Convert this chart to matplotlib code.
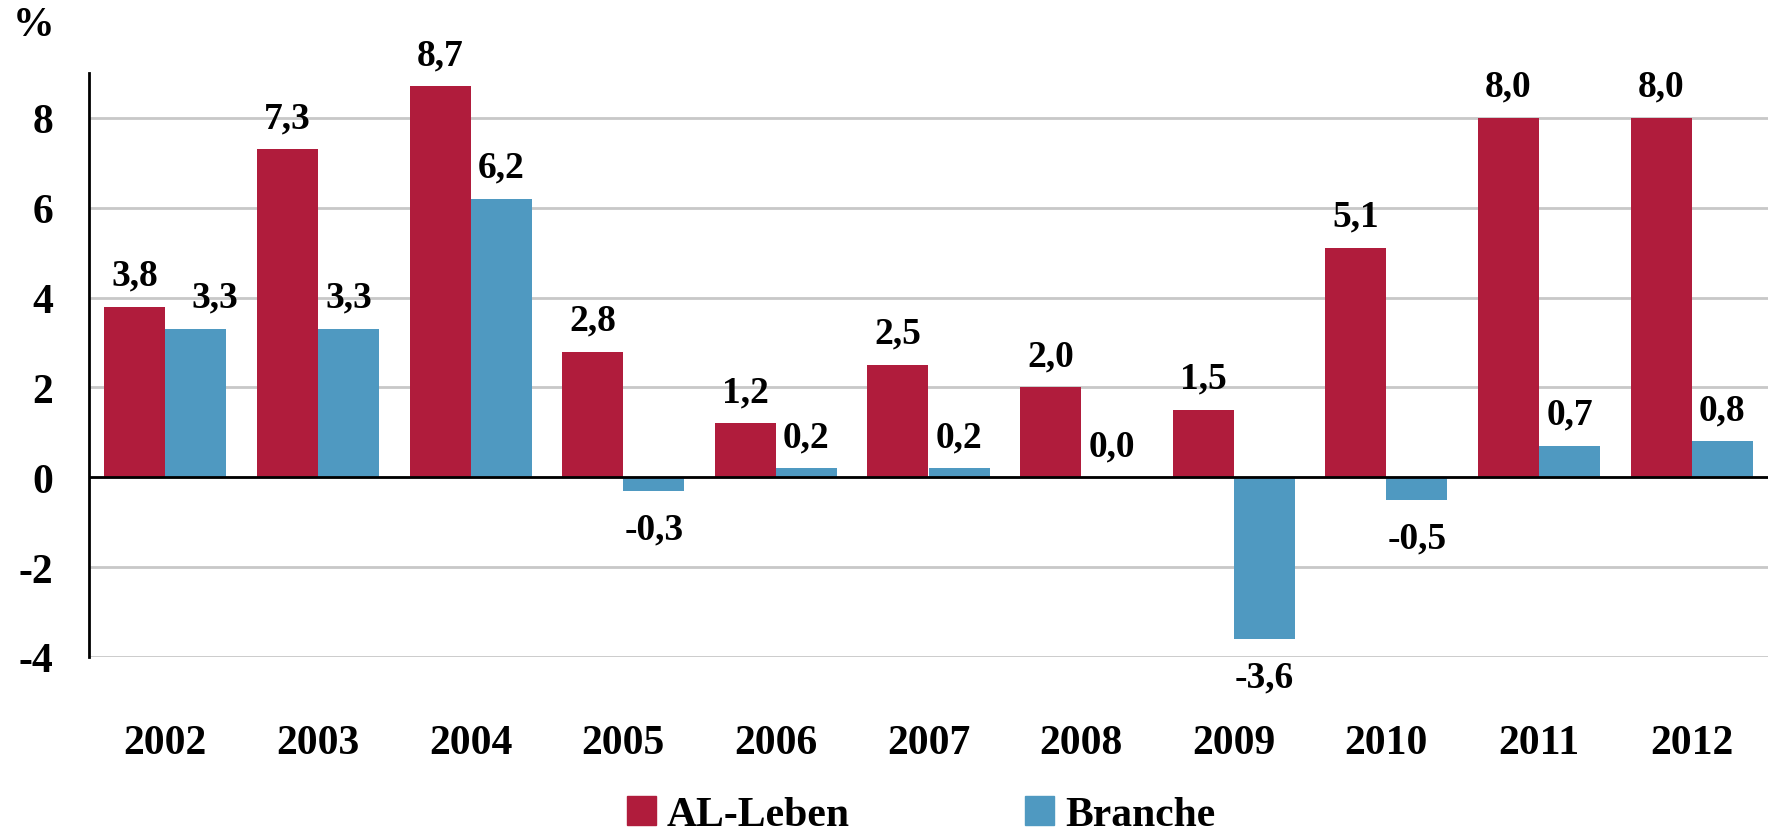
import matplotlib
matplotlib.use("Agg")
import matplotlib.pyplot as plt
from matplotlib.patches import Patch
from matplotlib import font_manager as fm
import numpy as np

years = ['2002', '2003', '2004', '2005', '2006', '2007', '2008', '2009', '2010', '2011', '2012']
al_leben = [3.8, 7.3, 8.7, 2.8, 1.2, 2.5, 2.0, 1.5, 5.1, 8.0, 8.0]
branche = [3.3, 3.3, 6.2, -0.3, 0.2, 0.2, 0.0, -3.6, -0.5, 0.7, 0.8]
series_names = ['AL-Leben', 'Branche']
yticks = [-4, -2, 0, 2, 4, 6, 8]

red = '#B01C3C'
blue = '#4F99C1'

# Times-like bold everywhere
serif = 'Liberation Serif'
plt.rcParams['font.family'] = 'serif'
plt.rcParams['font.serif'] = [serif, 'DejaVu Serif']
plt.rcParams['font.weight'] = 'bold'
big = fm.FontProperties(family=serif, weight='bold', size=30)
small = fm.FontProperties(family=serif, weight='bold', size=27)

W, H = 1772, 829
fig = plt.figure(figsize=(W / 100, H / 100), dpi=100)
ax = fig.add_axes([89 / W, 1 - 658 / H, (1768 - 89) / W, (658 - 74) / H])

x = np.arange(len(years))
bw = 0.4
ax.bar(x - bw / 2, al_leben, bw, color=red, zorder=3)
ax.bar(x + bw / 2, branche, bw, color=blue, zorder=3)

ax.set_xlim(-0.5, len(years) - 0.5)
ax.set_ylim(-4, 9)
ax.set_yticks(yticks)
ax.set_yticklabels([str(t) for t in yticks], fontproperties=big)
ax.set_xticks(x)
ax.set_xticklabels(years, fontproperties=big)
ax.tick_params(axis='y', length=0, pad=26)
ax.tick_params(axis='x', length=0, pad=48)

ax.grid(axis='y', color='#C8C8C8', linewidth=2, zorder=0)
ax.axhline(0, color='black', linewidth=2, zorder=4)
for s in ['top', 'right', 'bottom']:
    ax.spines[s].set_visible(False)
ax.spines['left'].set_linewidth(2)


def fmt(v):
    return ('%.1f' % v).replace('.', ',')


def label(xpos, v, dx=0):
    if v >= 0:
        ax.annotate(fmt(v), (xpos, v), xytext=(dx, 16), textcoords='offset points',
                    ha='center', va='baseline', fontproperties=small, zorder=5)
    else:
        ax.annotate(fmt(v), (xpos, v), xytext=(dx, -15), textcoords='offset points',
                    ha='center', va='top', fontproperties=small, zorder=5)


for i in range(len(years)):
    label(x[i] - bw / 2, al_leben[i])
    label(x[i] + bw / 2, branche[i], dx=14 if i == 0 else 0)

fig.text(34 / W, 1 - 26 / H, '%', fontproperties=big, ha='center', va='center')

handles = [Patch(color=red), Patch(color=blue)]
fig.legend(handles, series_names, loc='lower left', bbox_to_anchor=(627 / W, -6 / H),
           ncol=2, frameon=False, prop=big, handlelength=0.7, handleheight=0.7,
           handletextpad=0.26, columnspacing=4.2, borderpad=0, borderaxespad=0)

fig.savefig('out.png', dpi=100)
